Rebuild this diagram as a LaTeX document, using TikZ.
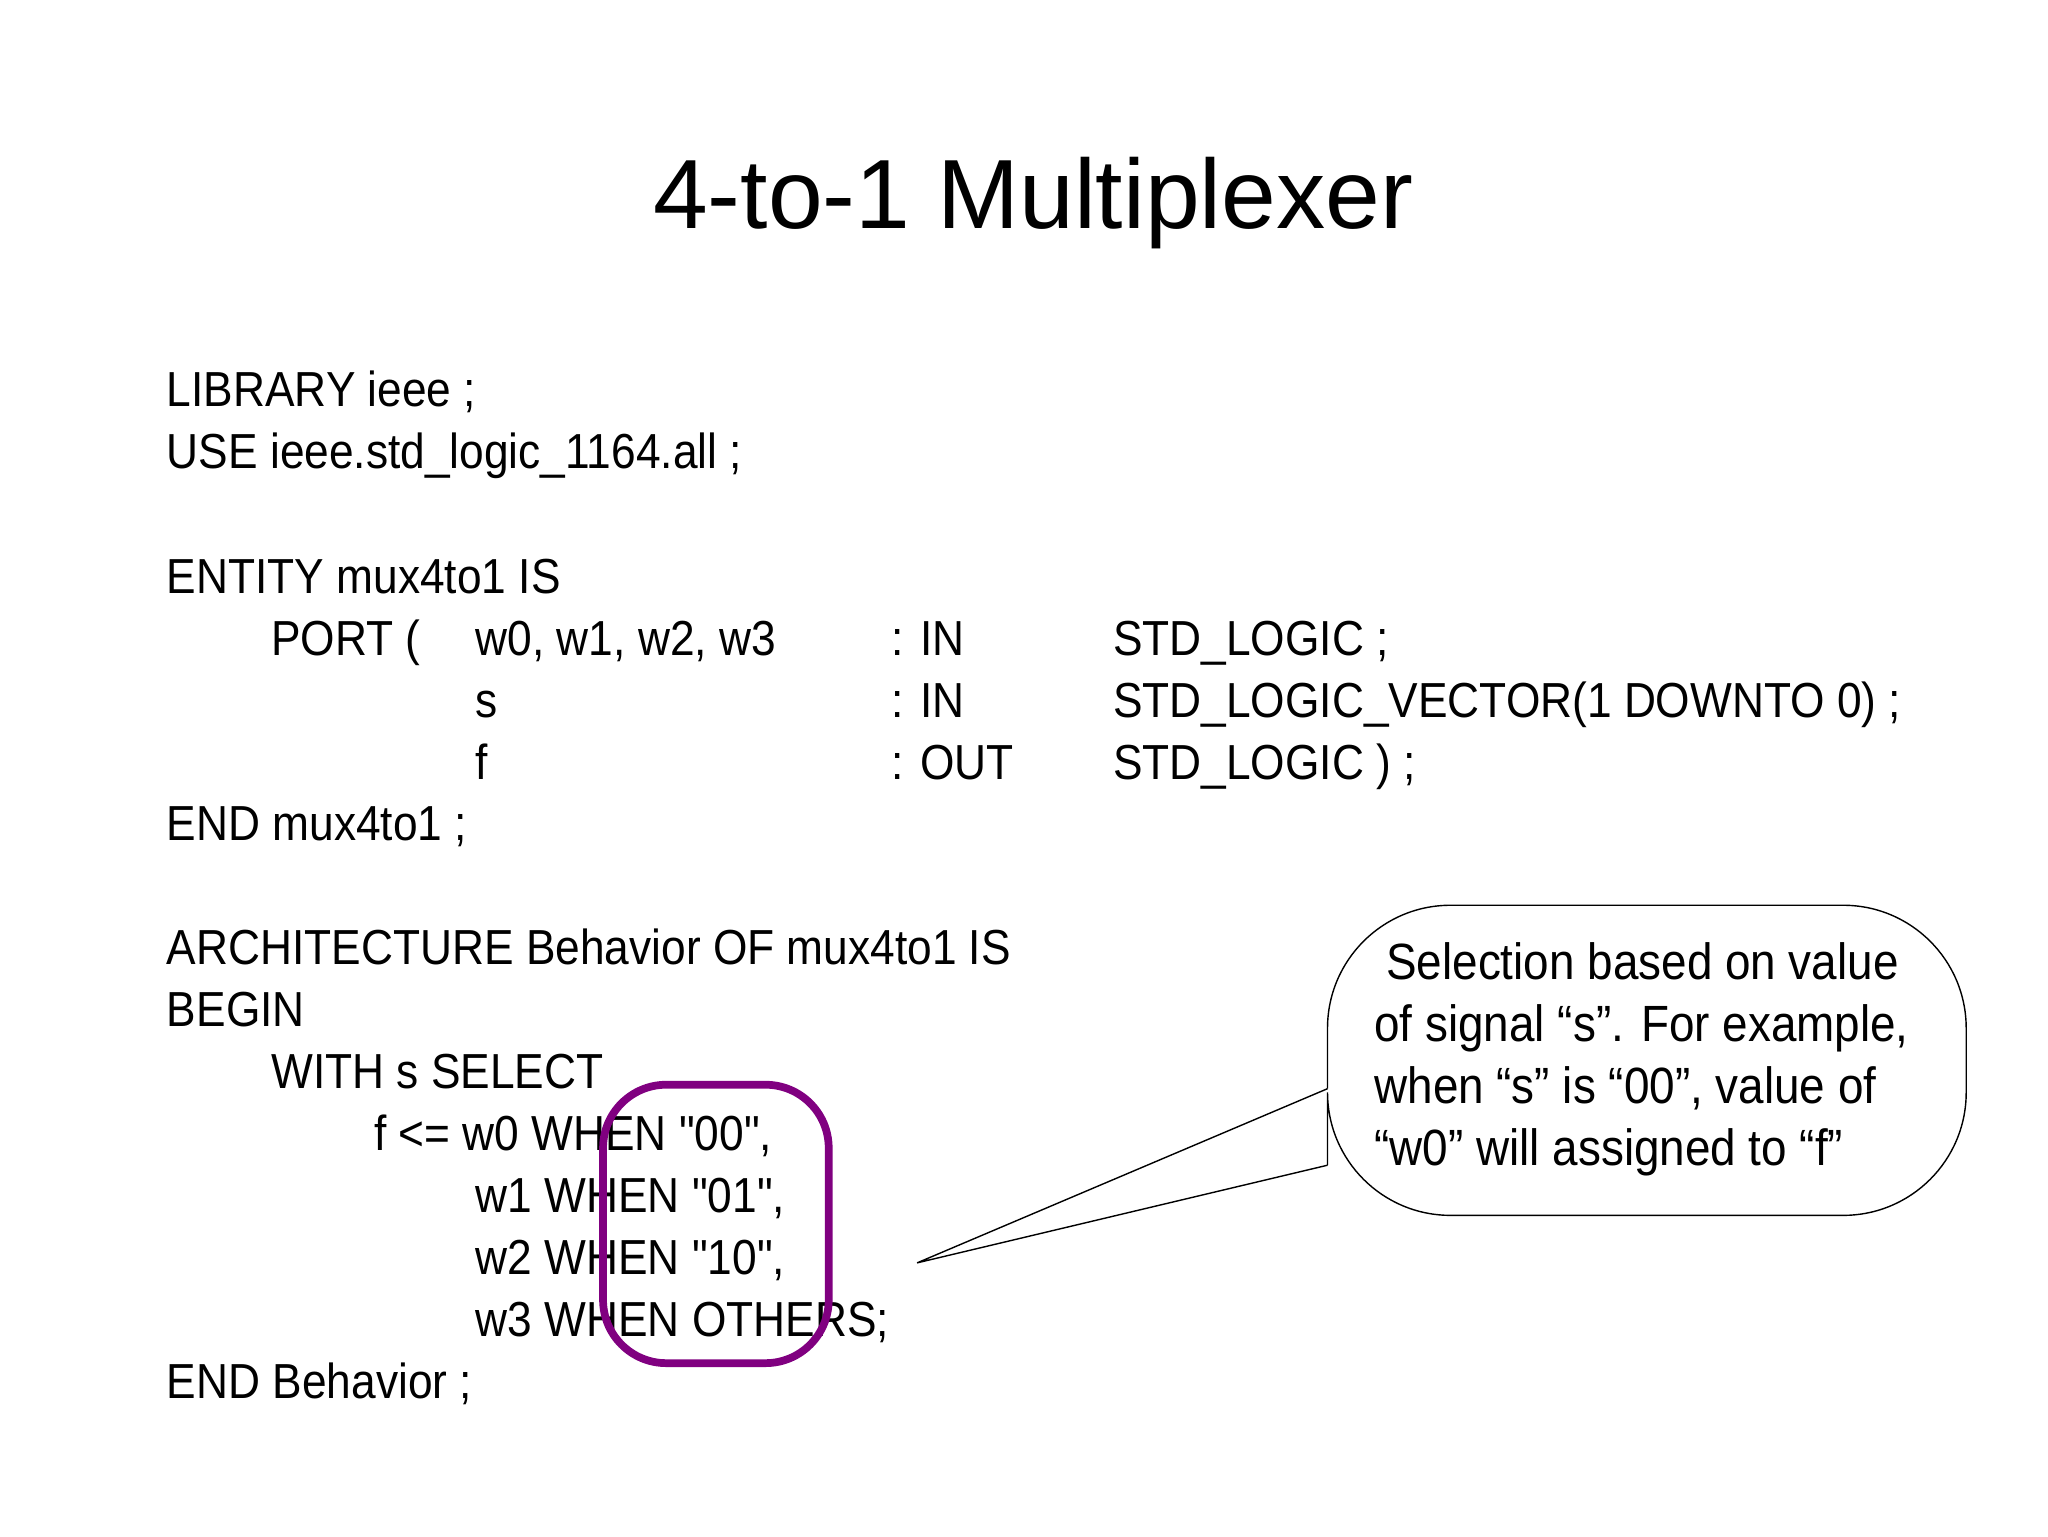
\documentclass[tikz,border=0pt]{standalone}
\usepackage{fontspec}
\setmainfont{Liberation Sans}[FakeStretch=0.9, Ligatures=TeXOff]
\newfontfamily\titlefont{Liberation Sans}
\begin{document}
\begin{tikzpicture}[x=0.0132cm, y=-0.0132cm,
  every node/.style={anchor=base west, inner sep=0pt, font=\fontsize{14}{17}\selectfont},
  note/.style={font=\fontsize{14.5}{17}\selectfont}]

    \useasboundingbox (0,0) rectangle (1552,1164);

    % Title
    \node[anchor=base, font=\titlefont\fontsize{28}{34}\selectfont] (title) at (783,173) {4-to-1 Multiplexer};

    % Code
    \node (lib) at (126,308) {LIBRARY ieee ;};
    \node (use) at (126,355) {USE ieee.std\_logic\_1164.all ;};
    \node (ent) at (126,450) {ENTITY mux4to1 IS};
    \node (port) at (205,497) {PORT (};
    \node (pw) at (360,497) {w0, w1, w2, w3};
    \node (ps) at (360,544) {s};
    \node (pf) at (360,591) {f};
    \node (iw) at (675,497) {: IN};
    \node (is) at (675,544) {: IN};
    \node (of) at (675,591) {: OUT};
    \node (tw) at (843,497) {STD\_LOGIC ;};
    \node (ts) at (843,544) {STD\_LOGIC\_VECTOR(1 DOWNTO 0) ;};
    \node (tf) at (843,591) {STD\_LOGIC ) ;};
    \node (endent) at (126,637) {END mux4to1 ;};
    \node (arch) at (126,731) {ARCHITECTURE Behavior OF mux4to1 IS};
    \node (begin) at (126,778) {BEGIN};
    \node (with) at (205,825) {WITH s SELECT};
    \node (l0) at (283,872) {f <= w0 WHEN "00",};
    \node (l1) at (360,919) {w1 WHEN "01",};
    \node (l2) at (360,966) {w2 WHEN "10",};
    \node (l3) at (360,1013) {w3 WHEN OTHERS;};
    \node (endarch) at (126,1060) {END Behavior ;};

    % Highlight box
    \draw[line width=2.2pt, draw={rgb,255:red,128;green,0;blue,128}, rounded corners=18]
        (457,822) rectangle (628,1033);

    % Callout
    \coordinate (tip) at (695,957);
    \draw[thin, rounded corners=35] (1006,883) -- (1006,921) -- (1490,921) -- (1490,686) -- (1006,686) -- (1006,825);
    \draw[thin] (1006,825) -- (tip) -- (1006,883);
    \node[note] (c1) at (1050,742) {Selection based on value};
    \node[note] (c2) at (1041,789) {of signal “s”. For example,};
    \node[note] (c3) at (1041,836) {when “s” is “00”, value of};
    \node[note] (c4) at (1041,883) {“w0” will assigned to “f”};

\end{tikzpicture}
\end{document}
